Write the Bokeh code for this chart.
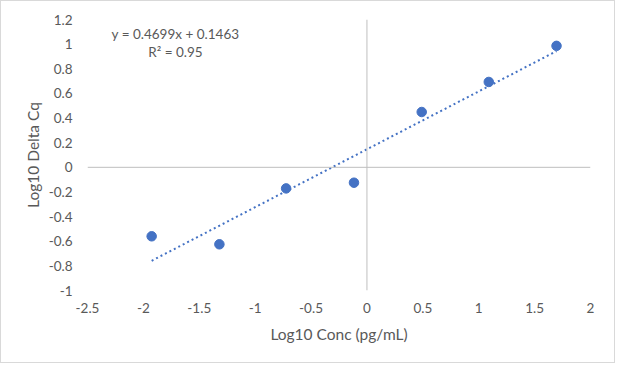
from bokeh.plotting import figure
from bokeh.models import Range1d, FixedTicker, Span, Label
from bokeh.embed import file_html
from bokeh.resources import INLINE

# data
log_conc = [-1.926, -1.32, -0.723, -0.116, 0.49, 1.09, 1.696]
log_delta_cq = [-0.560, -0.625, -0.171, -0.125, 0.449, 0.693, 0.986]
slope = 0.4699
intercept = 0.1463
r_squared = 0.95
x_ticks = [-2.5, -2.0, -1.5, -1.0, -0.5, 0.0, 0.5, 1.0, 1.5, 2.0]
x_tick_labels = ["-2.5", "-2", "-1.5", "-1", "-0.5", "0", "0.5", "1", "1.5", "2"]
y_ticks = [-1.0, -0.8, -0.6, -0.4, -0.2, 0.0, 0.2, 0.4, 0.6, 0.8, 1.0, 1.2]
y_tick_labels = ["-1", "-0.8", "-0.6", "-0.4", "-0.2", "0", "0.2", "0.4", "0.6", "0.8", "1", "1.2"]

FONT = "Lato"
GRAY = "#595959"
BLUE = "#4472C4"

p = figure(width=615, height=363, output_backend="svg", toolbar_location=None,
           x_range=Range1d(-2.5, 2), y_range=Range1d(-1, 1.2),
           min_border_left=86, min_border_right=26, min_border_top=18, min_border_bottom=74)
p.styles = {"border": "1px solid #d9d9d9"}
p.outline_line_color = None
p.xgrid.visible = False
p.ygrid.visible = False

for ax, ticks, labels in ((p.xaxis[0], x_ticks, x_tick_labels), (p.yaxis[0], y_ticks, y_tick_labels)):
    ax.ticker = FixedTicker(ticks=ticks)
    ax.major_label_overrides = {t: l for t, l in zip(ticks, labels)}
    ax.axis_line_color = None
    ax.major_tick_line_color = None
    ax.minor_tick_line_color = None
    ax.major_tick_out = 0
    ax.major_tick_in = 0
    ax.major_label_text_font = FONT
    ax.major_label_text_font_size = "13.5px"
    ax.major_label_text_color = GRAY
    ax.axis_label_text_font = FONT
    ax.axis_label_text_font_size = "15.5px"
    ax.axis_label_text_font_style = "normal"
    ax.axis_label_text_color = GRAY

p.xaxis.axis_label = "Log10 Conc (pg/mL)"
p.yaxis.axis_label = "Log10 Delta Cq"
p.xaxis.major_label_standoff = 12
p.yaxis.major_label_standoff = 15
p.xaxis.axis_label_standoff = 9
p.yaxis.axis_label_standoff = 4

# zero axes
p.add_layout(Span(location=0, dimension="width", line_color="#bfbfbf", line_width=1))
p.add_layout(Span(location=0, dimension="height", line_color="#bfbfbf", line_width=1))

# trendline
x0, x1 = min(log_conc), max(log_conc)
p.line([x0, x1], [slope * x0 + intercept, slope * x1 + intercept],
       line_color=BLUE, line_width=2, line_dash="2 3")

p.scatter(log_conc, log_delta_cq, size=9.5, color=BLUE)

p.add_layout(Label(x=-1.713, y=1.082, text=f"y = {slope}x + {intercept}",
                   text_align="center", text_baseline="middle",
                   text_font=FONT, text_font_size="13.5px", text_color=GRAY))
p.add_layout(Label(x=-1.713, y=0.934, text=f"R² = {r_squared}",
                   text_align="center", text_baseline="middle",
                   text_font=FONT, text_font_size="13.5px", text_color=GRAY))

open("out.html", "w").write(file_html(p, INLINE))
